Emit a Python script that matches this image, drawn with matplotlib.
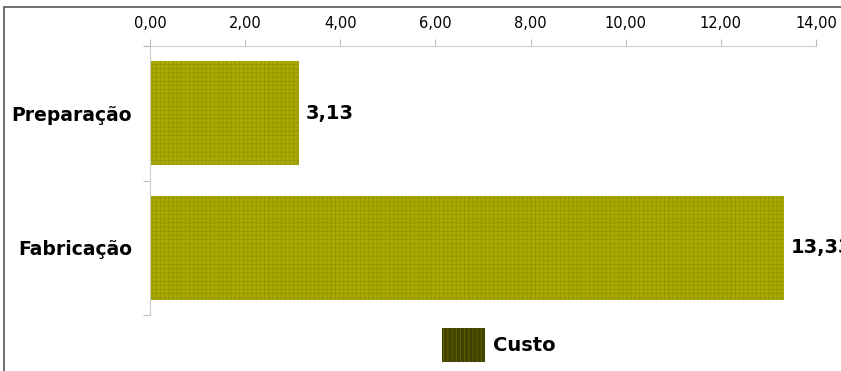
import matplotlib.pyplot as plt
from matplotlib.patches import Patch, Rectangle
from matplotlib.ticker import FixedLocator

categorias = ['Preparação', 'Fabricação']
custos = [3.13, 13.33]
xticks = [0, 2, 4, 6, 8, 10, 12, 14]
serie = 'Custo'

plt.rcParams['hatch.linewidth'] = 0.6

W, H = 841, 371
fig = plt.figure(figsize=(W / 100, H / 100), dpi=100)
ax = fig.add_axes([150 / W, 1 - 315 / H, (816 - 150) / W, (315 - 46) / H])

# moldura externa
fig.patches.append(Rectangle((4 / W, -0.1), 1.2, 1 - 7 / H + 0.1, transform=fig.transFigure,
                             fill=False, edgecolor='#555555', linewidth=1.2))

pos = list(range(len(categorias)))
bars = ax.barh(pos, custos, height=0.77, color='#AAAA00', hatch='++++', linewidth=0)
for b in bars:
    b.set_edgecolor('#959500')

for y, v in zip(pos, custos):
    ax.text(v + 0.15, y, f'{v:.2f}'.replace('.', ','), va='center', ha='left',
            fontsize=14, fontweight='bold', clip_on=False)

ax.set_xlim(0, 14)
ax.set_ylim(1.5, -0.5)
ax.xaxis.tick_top()
ax.set_xticks(xticks)
ax.set_xticklabels([f'{t:.2f}'.replace('.', ',') for t in xticks], fontsize=10.5)
ax.tick_params(axis='x', direction='out', length=5, color='#BBBBBB', pad=6)

ax.yaxis.set_major_locator(FixedLocator([-0.5, 0.5, 1.5]))
ax.yaxis.set_minor_locator(FixedLocator(pos))
ax.set_yticklabels([], minor=False)
ax.set_yticklabels(categorias, minor=True, fontsize=13.5, fontweight='bold')
ax.tick_params(axis='y', which='major', direction='out', length=5, color='#BBBBBB')
ax.tick_params(axis='y', which='minor', length=0, pad=13)

for s in ['right', 'bottom']:
    ax.spines[s].set_visible(False)
for s in ['top', 'left']:
    ax.spines[s].set_color('#CCCCCC')

handle = Patch(facecolor='#424200', edgecolor='#666600', hatch='||||', linewidth=0)
fig.legend([handle], [serie], loc='center', bbox_to_anchor=(499 / W, 1 - 345 / H),
           frameon=False, prop={'size': 14, 'weight': 'bold'},
           handlelength=2.2, handleheight=2.3, handletextpad=0.4)

fig.savefig('out.png', dpi=100)
